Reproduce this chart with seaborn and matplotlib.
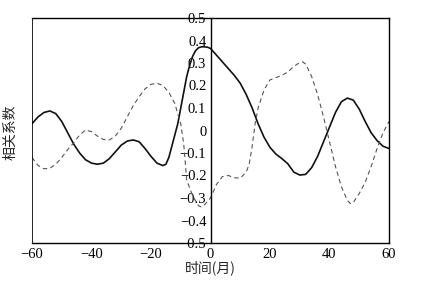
import numpy as np
import pandas as pd
import matplotlib
matplotlib.use('Agg')
import matplotlib.pyplot as plt
import seaborn as sns

# solid curve
solid_x = [-60, -58, -56, -54, -52, -50, -48, -46, -44, -42, -40, -38, -36, -34, -32, -30,
           -28, -26, -24, -22, -20, -18, -16, -15, -14, -13, -12, -11, -10, -9, -8, -7,
           -6, -5, -4, -3, -2, -1, 0, 2, 4, 6, 8, 10, 12, 14, 16, 18, 20, 22, 24, 26,
           28, 30, 32, 34, 36, 38, 40, 42, 44, 46, 48, 50, 52, 54, 56, 58, 60]
solid_y = [0.03, 0.06, 0.08, 0.087, 0.075, 0.04, -0.01, -0.06, -0.10, -0.13, -0.145, -0.15,
           -0.145, -0.125, -0.095, -0.065, -0.047, -0.042, -0.05, -0.08, -0.115, -0.145,
           -0.156, -0.15, -0.12, -0.07, -0.02, 0.03, 0.10, 0.17, 0.24, 0.29, 0.33, 0.355,
           0.368, 0.372, 0.372, 0.37, 0.365, 0.335, 0.305, 0.275, 0.245, 0.21, 0.16, 0.10,
           0.03, -0.03, -0.075, -0.105, -0.125, -0.148, -0.185, -0.198, -0.195, -0.165,
           -0.115, -0.05, 0.015, 0.08, 0.128, 0.144, 0.135, 0.095, 0.04, -0.01, -0.045,
           -0.07, -0.08]

# dashed curve
dash_x = [-60, -58, -56, -54, -52, -50, -48, -46, -44, -42, -40, -38, -36, -34, -32, -30,
          -28, -26, -24, -22, -20, -18, -16, -14, -12, -10, -9, -8, -6, -4, -3, -2, 0,
          2, 4, 6, 8, 10, 12, 13, 14, 15, 16, 18, 20, 22, 24, 26, 28, 30, 31, 32, 34,
          36, 38, 40, 42, 44, 46, 47, 48, 50, 52, 54, 56, 58, 60]
dash_y = [-0.12, -0.155, -0.17, -0.168, -0.15, -0.12, -0.085, -0.055, -0.02, 0.002, -0.005,
          -0.025, -0.04, -0.042, -0.025, 0.01, 0.06, 0.11, 0.15, 0.185, 0.205, 0.21, 0.2,
          0.17, 0.12, 0.03, -0.06, -0.22, -0.29, -0.335, -0.34, -0.33, -0.30, -0.24, -0.205,
          -0.2, -0.21, -0.212, -0.185, -0.15, -0.07, 0.03, 0.1, 0.18, 0.225, 0.235, 0.245,
          0.26, 0.285, 0.302, 0.305, 0.295, 0.24, 0.16, 0.06, -0.05, -0.16, -0.25, -0.31,
          -0.325, -0.32, -0.28, -0.23, -0.16, -0.08, -0.01, 0.04]

x_ticks = [-60, -40, -20, 0, 20, 40, 60]
x_labels = ['\u221260', '\u221240', '\u221220', '0', '20', '40', '60']
y_ticks = [-0.5, -0.4, -0.3, -0.2, -0.1, 0, 0.1, 0.2, 0.3, 0.4, 0.5]
y_labels = ['\u22120.5', '\u22120.4', '\u22120.3', '\u22120.2', '\u22120.1', '0',
            '0.1', '0.2', '0.3', '0.4', '0.5']

sns.set_style('white')
plt.rcParams['font.family'] = ['Liberation Serif', 'DejaVu Serif']

df_solid = pd.DataFrame({'x': solid_x, 'y': solid_y})
df_dash = pd.DataFrame({'x': dash_x, 'y': dash_y})

fig = plt.figure(figsize=(4.33, 2.84), dpi=100)
ax = fig.add_axes([32 / 433, 1 - 243 / 284, 357 / 433, 225 / 284])

sns.lineplot(data=df_solid, x='x', y='y', ax=ax, color='#111111', linewidth=1.2)
sns.lineplot(data=df_dash, x='x', y='y', ax=ax, color='#555555', linewidth=0.8,
             linestyle=(0, (4, 3)))

ax.set_xlim(-60, 60)
ax.set_ylim(-0.5, 0.5)

# y axis sits in the middle, box edge kept on the left
ax.spines['left'].set_position(('data', 0))
ax.axvline(-60, color='black', linewidth=1.2)
for s in ['top', 'right', 'bottom', 'left']:
    ax.spines[s].set_color('black')
    ax.spines[s].set_linewidth(1.0)

ax.set_xticks(x_ticks)
ax.set_xticklabels(x_labels)
ax.set_yticks(y_ticks)
ax.set_yticklabels(y_labels)
ax.tick_params(axis='both', direction='in', length=4, width=0.8, labelsize=10.5, colors='black')
ax.tick_params(axis='y', pad=3)

ax.set_xlabel('')
ax.set_ylabel('')
fig.text(210 / 433, 1 - 268 / 284, '时间(月)', ha='center', va='center', fontsize=10,
         family=['Noto Sans CJK SC'])
fig.text(10 / 433, 1 - 132 / 284, '相关系数', ha='center', va='center', rotation=90,
         fontsize=10, family=['Noto Sans CJK SC'])

fig.savefig('out.png', dpi=100)
